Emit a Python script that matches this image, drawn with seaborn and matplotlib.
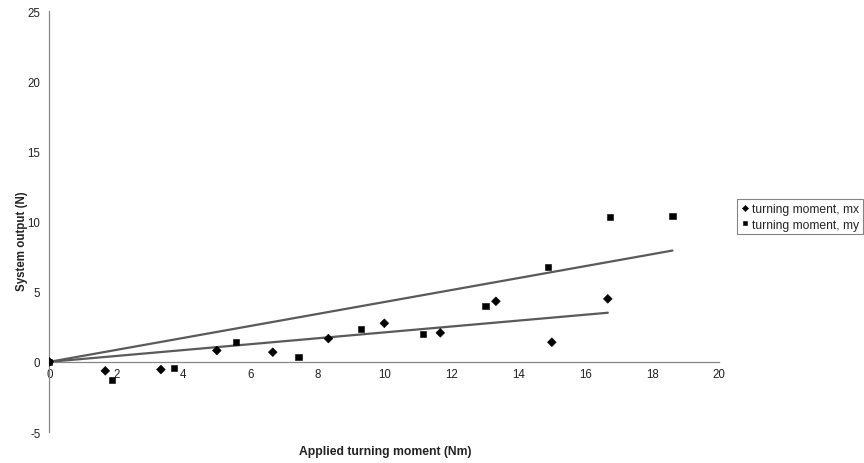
import numpy as np
import pandas as pd
import seaborn as sns
from matplotlib import pyplot as plt

# turning moment, mx
mx_x = [0, 1.67, 3.33, 5.0, 6.67, 8.33, 10.0, 11.67, 13.33, 15.0, 16.67]
mx_y = [0, -0.64, -0.55, 0.81, 0.69, 1.66, 2.75, 2.07, 4.32, 1.40, 4.49]
# turning moment, my
my_x = [0, 1.86, 3.72, 5.58, 7.44, 9.30, 11.16, 13.02, 14.88, 16.74, 18.60]
my_y = [0, -1.28, -0.45, 1.40, 0.33, 2.35, 2.00, 3.97, 6.74, 10.30, 10.40]

x_ticks = [0, 2, 4, 6, 8, 10, 12, 14, 16, 18, 20]
y_ticks = [-5, 0, 5, 10, 15, 20, 25]

sns.set_style("white")
plt.rcParams['font.family'] = ['Liberation Sans', 'DejaVu Sans']
plt.rcParams['axes.unicode_minus'] = False

df = pd.concat([
    pd.DataFrame({'x': mx_x, 'y': mx_y, 'series': 'turning moment, mx'}),
    pd.DataFrame({'x': my_x, 'y': my_y, 'series': 'turning moment, my'}),
])

fig = plt.figure(figsize=(8.64, 4.64), dpi=100)
ax = fig.add_axes([0.0571, 0.0668, 0.7755, 0.907])

# trend lines through the origin (least squares, zero intercept)
for xs, ys in [(mx_x, mx_y), (my_x, my_y)]:
    xs = np.array(xs); ys = np.array(ys)
    k = (xs * ys).sum() / (xs * xs).sum()
    sns.lineplot(x=[0, xs.max()], y=[0, k * xs.max()], ax=ax, color='#5a5a5a',
                 lw=1.6, legend=False)

sns.scatterplot(data=df, x='x', y='y', hue='series', style='series',
                markers={'turning moment, mx': 'D', 'turning moment, my': 's'},
                palette={'turning moment, mx': 'black', 'turning moment, my': 'black'},
                s=20, edgecolor='black', linewidth=0.4, ax=ax, zorder=3)

ax.set_xlim(0, 20)
ax.set_ylim(-5, 25)
ax.set_xticks(x_ticks)
ax.set_yticks(y_ticks)
ax.spines['left'].set_position(('data', 0))
ax.spines['bottom'].set_position(('data', 0))
ax.spines['top'].set_visible(False)
ax.spines['right'].set_visible(False)
for s in ['left', 'bottom']:
    ax.spines[s].set_color('#888888')
    ax.spines[s].set_linewidth(0.9)
ax.tick_params(axis='both', direction='inout', length=5, width=0.8, color='#888888',
               labelsize=8.3, labelcolor='#222222')
ax.tick_params(axis='x', pad=2)
ax.tick_params(axis='y', pad=4)

ax.set_xlabel('')
ax.set_ylabel('')
fig.text(0.446, 0.026, 'Applied turning moment (Nm)', ha='center', va='center',
         fontsize=8.7, fontweight='bold', color='#222222')
fig.text(0.026, 0.48, 'System output (N)', ha='center', va='center', rotation=90,
         fontsize=8.3, fontweight='bold', color='#222222')

handles, labels = ax.get_legend_handles_labels()
leg = ax.legend(handles, labels, loc='upper left', bbox_to_anchor=(1.026, 0.553),
                bbox_transform=ax.transAxes, fontsize=8.7, frameon=True,
                fancybox=False, handletextpad=0.15, handlelength=0.8,
                borderpad=0.3, labelspacing=0.3, markerscale=0.7,
                borderaxespad=0)
leg.get_frame().set_edgecolor('#666666')
leg.get_frame().set_linewidth(0.8)

plt.savefig('out.png', dpi=100)
